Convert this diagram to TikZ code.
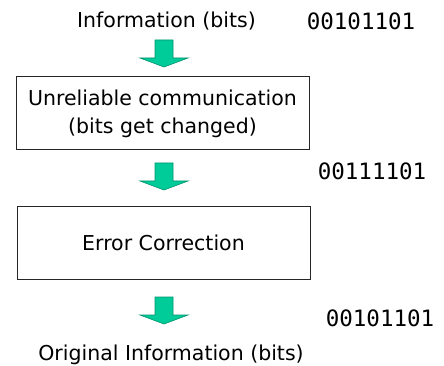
\documentclass[tikz,border=0pt]{standalone}
\usepackage{fontspec}
\setmainfont{DejaVu Sans}
\newfontfamily\monof{DejaVu Sans Mono}
\definecolor{arrowgreen}{HTML}{00CC99}
\definecolor{arrowedge}{HTML}{00936E}
\begin{document}
\begin{tikzpicture}[x=1pt,y=-1pt,
  lbl/.style={font=\fontsize{20.5}{28}\selectfont, inner sep=0pt, anchor=base},
  bits/.style={font=\monof\fontsize{22.5}{27}\selectfont, inner sep=0pt, anchor=base},
  procbox/.style={draw=black!85, line width=1pt, minimum width=293pt, minimum height=73pt,
    inner sep=0pt, align=center, font=\fontsize{20.5}{28}\selectfont},
  blockarrow/.style={fill=arrowgreen, draw=arrowedge, line width=0.6pt, line join=miter}]
\useasboundingbox (0,0) rectangle (444,366);
\node[lbl] (info) at (166.5,28) {Information (bits)};
\node[bits] (b1) at (361,30) {00101101};
\node[procbox] (chan) at (162.5,113.5) {Unreliable communication\\(bits get changed)};
\node[bits] (b2) at (372,180) {00111101};
\node[procbox] (ecc) at (163.5,242.5) {Error Correction};
\node[bits] (b3) at (380,326) {00101101};
\node[lbl] (orig) at (171,360.5) {Original Information (bits)};
\coordinate (a1) at (164,40);
\coordinate (a2) at (164,163);
\coordinate (a3) at (164,297);
\foreach \a in {a1,a2,a3}{
  \draw[blockarrow] (\a) ++(-9,0) -- ++(18,0) -- ++(0,18) -- ++(15,0) -- ++(-24,9) -- ++(-24,-9) -- ++(15,0) -- cycle;
}
\end{tikzpicture}
\end{document}
